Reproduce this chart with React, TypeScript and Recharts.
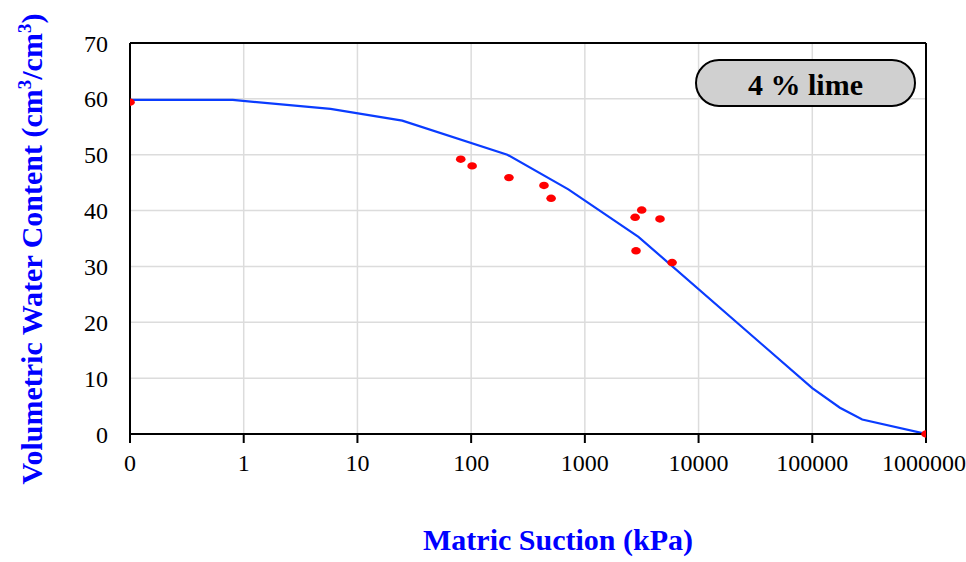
import { ComposedChart, Line, Scatter, XAxis, YAxis, CartesianGrid, ReferenceLine, Label } from "recharts";

// fitted SWCC curve (suction kPa, volumetric water content %)
const curveSuction = [0.1, 0.8, 5.8, 24.8, 208, 716, 2960, 100000, 175000, 275000, 1000000];
const curveTheta = [59.8, 59.8, 58.2, 56.1, 50.0, 43.8, 35.3, 8.2, 4.7, 2.6, 0];

// measured points
const pointSuction = [0.1, 81, 102, 215, 437, 505, 2768, 3162, 4580, 2818, 5850, 1000000];
const pointTheta = [59.4, 49.2, 48.0, 45.9, 44.5, 42.2, 38.8, 40.1, 38.5, 32.8, 30.7, 0];

const xTicks = [0.1, 1, 10, 100, 1000, 10000, 100000, 1000000];
const yTicks = [0, 10, 20, 30, 40, 50, 60, 70];

const curve = curveSuction.map((s, i) => ({ suction: s, theta: curveTheta[i] }));
const points = pointSuction.map((s, i) => ({ suction: s, theta: pointTheta[i] }));

const FONT = "'Liberation Serif', 'Times New Roman', serif";
const BLUE = "#0000ff";

const Dot = (props: any) => {
  if (props.cx == null || props.cy == null) return null;
  return <ellipse cx={props.cx} cy={props.cy} rx={4.8} ry={3.7} fill="#ff0000" />;
};

export default function App() {
  return (
    <div style={{ position: "absolute", left: 0, top: 0, width: 966, height: 562, background: "#fff", fontFamily: FONT }}>
      <ComposedChart
        width={966}
        height={562}
        margin={{ top: 43, right: 40, bottom: 68, left: 50 }}
        style={{ fontFamily: FONT }}
      >
        <CartesianGrid stroke="#dcdcdc" strokeWidth={1.5} />
        <XAxis
          dataKey="suction"
          type="number"
          scale="log"
          domain={[0.1, 1000000]}
          ticks={xTicks}
          allowDataOverflow
          height={60}
          tickFormatter={(v: number) => (v < 1 ? "0" : String(v))}
          tick={{ fill: "#000", fontSize: 24, fontFamily: FONT }}
          tickSize={9}
          tickMargin={11}
          tickLine={{ stroke: "#000", strokeWidth: 2 }}
          axisLine={{ stroke: "#000", strokeWidth: 2 }}
        >
          <Label
            content={() => (
              <text x={558} y={550} textAnchor="middle" fill={BLUE} fontSize={30} fontWeight="bold" fontFamily={FONT}>
                Matric Suction (kPa)
              </text>
            )}
          />
        </XAxis>
        <YAxis
          type="number"
          domain={[0, 70]}
          ticks={yTicks}
          width={80}
          tickLine={false}
          tickSize={0}
          tickMargin={22}
          tick={{ fill: "#000", fontSize: 24, fontFamily: FONT }}
          axisLine={{ stroke: "#000", strokeWidth: 2 }}
        >
          <Label
            content={() => (
              <text
                x={42}
                y={249}
                transform="rotate(-90, 42, 249)"
                textAnchor="middle"
                fill={BLUE}
                fontSize={30}
                fontWeight="bold"
                fontFamily={FONT}
              >
                Volumetric Water Content (cm<tspan dy={-11} fontSize={19}>3</tspan>
                <tspan dy={11}>/cm</tspan>
                <tspan dy={-11} fontSize={19}>3</tspan>
                <tspan dy={11}>)</tspan>
              </text>
            )}
          />
        </YAxis>
        <ReferenceLine y={70} stroke="#000" strokeWidth={2} />
        <ReferenceLine x={1000000} stroke="#000" strokeWidth={2} />
        <Line
          data={curve}
          dataKey="theta"
          type="linear"
          stroke="#0a3cff"
          strokeWidth={2.2}
          dot={false}
          activeDot={false}
          isAnimationActive={false}
        />
        <Scatter data={points} dataKey="theta" shape={Dot} isAnimationActive={false} />
      </ComposedChart>
      <div
        style={{
          position: "absolute",
          left: 695,
          top: 59,
          width: 217,
          height: 41,
          paddingTop: 3,
          boxSizing: "content-box",
          border: "2px solid #000",
          borderRadius: 24,
          background: "#d0d0d0",
          display: "flex",
          alignItems: "center",
          justifyContent: "center",
          fontSize: 30,
          fontWeight: "bold",
          fontFamily: FONT,
          color: "#000",
        }}
      >
        4 % lime
      </div>
    </div>
  );
}
